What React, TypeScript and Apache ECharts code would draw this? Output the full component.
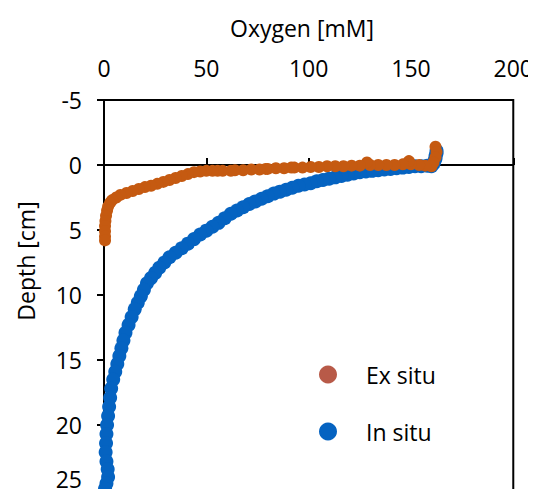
import React, { useEffect, useRef } from "react";
import * as echarts from "echarts";

const xTitle = "Oxygen [mM]";
const yTitle = "Depth [cm]";
const seriesNames = ["Ex situ", "In situ"];

// [oxygen (mM), depth (cm)]
const exSitu: number[][] = [
  [162, -1.4], [162.5, -1.0], [162, -0.6], [161, -0.2], [160, 0.1], [157, 0.05], [154, 0.0],
  [150, -0.05], [149, -0.3], [146, -0.05], [142, 0.0], [138, 0.0], [134, 0.0], [130, 0.0],
  [128.5, -0.2], [125, 0.05], [121, 0.05], [117, 0.1], [113, 0.1], [109, 0.1], [105, 0.15],
  [101, 0.15], [97, 0.2], [93, 0.2], [91.5, 0.2], [88, 0.25], [84, 0.25], [80, 0.3], [79, 0.3],
  [76, 0.35], [72, 0.35], [68, 0.4], [64, 0.4], [62, 0.45], [58, 0.45], [55.5, 0.45], [53, 0.45],
  [50, 0.45], [47, 0.5], [44, 0.55], [41, 0.7], [38, 0.85], [35, 1.0], [32, 1.15], [29, 1.3],
  [26, 1.45], [23, 1.6], [20, 1.7], [17, 1.85], [14, 2.0], [11, 2.15], [8, 2.3], [6, 2.5],
  [4, 2.7], [3, 2.9], [2, 3.2], [1.5, 3.5], [1, 3.9], [0.7, 4.3], [0.5, 4.7], [0.5, 5.1],
  [0.5, 5.5], [0.5, 5.8],
];

const inSitu: number[][] = [
  [162.5, -1.1], [162.5, -0.9], [162, -0.7], [162, -0.5], [161.5, -0.3], [161, -0.1], [160, 0.1],
  [158, 0.05], [155, 0.1], [152, 0.1], [149, 0.15], [146, 0.2], [143, 0.25], [140, 0.3],
  [137, 0.35], [134, 0.4], [131, 0.45], [128, 0.5], [125, 0.55], [122, 0.65], [119, 0.75],
  [116, 0.85], [113, 0.95], [110, 1.05], [107, 1.15], [104, 1.25], [101, 1.4], [98, 1.5],
  [95, 1.6], [92, 1.75], [89, 1.9], [86, 2.05], [83, 2.2], [80, 2.4], [77, 2.6], [74, 2.8],
  [71, 3.0], [68, 3.25], [65, 3.5], [62, 3.75], [59, 4.1], [56, 4.45], [53, 4.75], [50, 5.05],
  [47, 5.35], [44, 5.7], [41, 6.05], [38, 6.4], [35, 6.75], [32, 7.1], [29.5, 7.5], [27, 7.9],
  [25, 8.3], [23, 8.7], [21, 9.1], [19.5, 9.6], [18, 10.1], [16.5, 10.6], [15, 11.1],
  [13.5, 11.7], [12, 12.3], [10.5, 12.9], [9.5, 13.5], [8.5, 14.1], [7.5, 14.7], [6.5, 15.3],
  [5.5, 15.9], [4.5, 16.5], [3.5, 17.2], [3, 17.9], [2.5, 18.6], [2, 19.3], [1.5, 20],
  [1.2, 20.7], [1, 21.4], [0.8, 22.1], [1.2, 22.8], [1.8, 23.4], [2, 24], [1.2, 24.5], [0.5, 24.9],
];

const FONT = "'Open Sans', 'Noto Sans', sans-serif";
const FS = 23;

export default function App() {
  const ref = useRef<HTMLDivElement>(null);
  useEffect(() => {
    if (!ref.current) return;
    const chart = echarts.init(ref.current, undefined, { renderer: "svg" });
    chart.setOption({
      animation: false,
      textStyle: { fontFamily: FONT },
      grid: {
        left: 104, right: 21, top: 100, bottom: 7,
        show: true, borderColor: "#000", borderWidth: 2, backgroundColor: "transparent",
      },
      graphic: [
        {
          type: "text",
          x: 302,
          y: 28,
          style: {
            text: xTitle, fontSize: FS, fontFamily: FONT, fill: "#000",
            align: "center", verticalAlign: "middle",
          },
        },
        {
          type: "text",
          x: 26,
          y: 261,
          rotation: Math.PI / 2,
          style: {
            text: yTitle, fontSize: FS, fontFamily: FONT, fill: "#000",
            align: "center", verticalAlign: "middle",
          },
        },
      ],
      legend: {
        orient: "vertical",
        left: 314,
        top: 358,
        itemWidth: 18,
        itemHeight: 18,
        itemGap: 34,
        icon: "circle",
        textStyle: { fontSize: FS, color: "#000", fontFamily: FONT, padding: [0, 0, 0, 24] },
        data: [
          { name: seriesNames[0], itemStyle: { color: "#B85A48" } },
          { name: seriesNames[1], itemStyle: { color: "#0563C1" } },
        ],
      },
      xAxis: {
        type: "value",
        position: "top",
        min: 0, max: 200, interval: 50,
        axisLine: { show: true, lineStyle: { color: "#000", width: 2 } },
        axisTick: { show: true, inside: false, length: 7, lineStyle: { color: "#000", width: 2 } },
        axisLabel: { fontSize: FS, color: "#000", margin: 21, fontFamily: FONT },
        splitLine: { show: false },
      },
      yAxis: {
        type: "value",
        inverse: true,
        min: -5, max: 25, interval: 5,
        axisLine: { show: true, onZero: false, lineStyle: { color: "#000", width: 2 } },
        axisTick: { show: true, inside: false, length: 7, lineStyle: { color: "#000", width: 2 } },
        axisLabel: {
          fontSize: FS, color: "#000", margin: 22, fontFamily: FONT,
          verticalAlignMaxLabel: "bottom",
        },
        splitLine: { show: false },
      },
      series: [
        {
          name: seriesNames[1],
          type: "scatter",
          data: inSitu,
          symbolSize: 14,
          itemStyle: { color: "#0563C1", opacity: 1 },
          z: 2,
        },
        {
          name: seriesNames[0],
          type: "scatter",
          data: exSitu,
          symbolSize: 12,
          itemStyle: { color: "#C55A11", opacity: 1 },
          z: 3,
          markLine: {
            silent: true,
            symbol: "none",
            label: { show: false },
            lineStyle: { color: "#000", width: 2, type: "solid" },
            data: [{ yAxis: 0 }],
            z: 1,
          },
        },
      ],
    });
    return () => chart.dispose();
  }, []);
  return <div ref={ref} style={{ width: 536, height: 497, margin: -8 }} />;
}
